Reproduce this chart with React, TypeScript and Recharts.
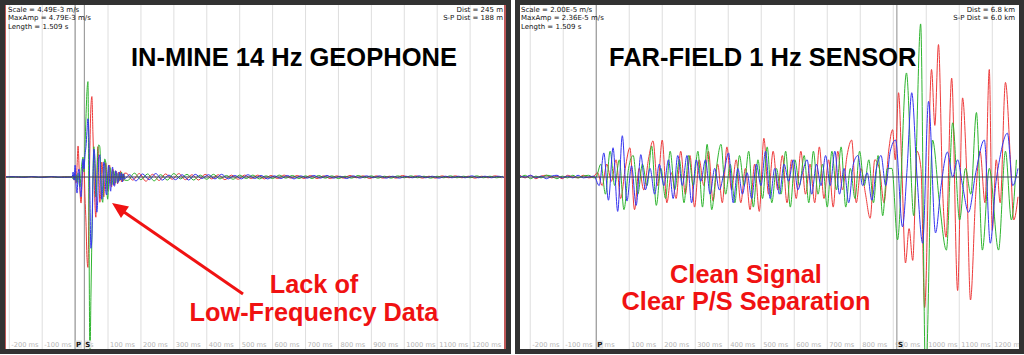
import React from "react";
import { LineChart, Line, XAxis, YAxis, ReferenceLine } from "recharts";

const TICKS_MS = [-200, -100, 0, 100, 200, 300, 400, 500, 600, 700, 800, 900, 1000, 1100, 1200];

const RED = "#ee3b3b";
const GREEN = "#2fb52f";
const BLUE = "#3434f0";

// ---------- in-mine 14 Hz geophone, amplitude in 1e-3 m/s ----------
const MINE_SCALE = 4.49;
const MINE_DOMAIN: [number, number] = [-213, 1309];
const MINE_P = 0;
const MINE_S = 28;

// quiet pre-event, every 20 ms from -212 ms
const MINE_PRE_START = -212;
const MINE_PRE_STEP = 20;
const MINE_PRE_RED = [0, 0.01, -0.01, 0.01, 0, -0.01, 0.01, 0, -0.01, 0.01, 0];
const MINE_PRE_GREEN = [0, -0.01, 0.01, 0, 0.01, -0.01, 0, 0.01, -0.01, 0, 0];
const MINE_PRE_BLUE = [0, 0.01, 0, -0.01, 0.01, 0, -0.01, 0.01, 0, -0.01, 0];

// P/S burst, every 3 ms from -9 ms
const MINE_BURST_START = -9;
const MINE_BURST_STEP = 3;
const MINE_BURST_RED = [
  0, 0.05, -0.08, 0.1, -0.16, 0.31, 0.81, 0.26, -0.39, -0.68,
  -0.21, 0.37, 0.26, -0.52, -1.18, -2.1, -2.36, -0.79, 0.79, 1.83,
  2.1, 1.18, 0.26, -0.66, -1.05, 0, 0.79, 0.26, -0.66, -0.39,
  0.39, 0.13, -0.52, -0.13, 0.37, 0.1, -0.37, 0.21, 0.31, -0.16,
  -0.26, 0.21, 0.1, -0.21, 0.16, 0.08, -0.18, 0.13, -0.1, 0.16,
  -0.13, 0.08, -0.1, 0.1,
];
const MINE_BURST_GREEN = [
  0, -0.05, 0.08, -0.08, 0.05, -0.13, 0.1, -0.16, -0.26, 0.13,
  0.39, 0.52, 0.13, 0.79, 1.57, 2.23, 2.49, -1.05, -4.79, -3.14,
  -1.57, 0, 0.79, 0.26, -0.52, -0.13, 0.66, 0.84, 0.79, 0.13,
  -0.52, -0.66, 0, 0.47, 0.39, -0.26, -0.58, -0.13, 0.26, 0.16,
  -0.21, -0.1, 0.16, 0.05, -0.16, 0.1, 0.08, -0.13, 0.1, -0.08,
  0.13, -0.1, 0.08, -0.08,
];
const MINE_BURST_BLUE = [
  0, 0.13, -0.08, 0.31, -0.21, -0.42, 0.1, 0.21, -0.31, -0.52,
  0, 0.47, 0.21, 0.58, 0.79, 1.18, 1.52, 1.05, -0.52, -1.86,
  -1.57, -0.26, 0.73, 0.52, -0.39, -0.92, -0.52, 0.47, 0.58, -0.13,
  -0.58, -0.26, 0.39, 0.31, -0.37, -0.47, 0.05, 0.31, -0.16, -0.37,
  0.1, 0.26, -0.21, -0.24, 0.16, 0.13, -0.16, -0.1, 0.13, -0.08,
  0.1, -0.13, 0.08, -0.05,
];

// coda, every 20 ms
const MINE_TAIL_STEP = 20;
const MINE_TAIL_RED = [
  0.1, -0.08, 0.09, -0.11, 0.07, -0.09, 0.08, -0.06, 0.09, -0.07,
  0.06, -0.08, 0.07, -0.05, 0.06, -0.07, 0.05, -0.06, 0.05, -0.04,
  0.05, -0.05, 0.04, -0.04, 0.05, -0.03, 0.04, -0.04, 0.04, -0.04,
  0.03, -0.04, 0.03, -0.03, 0.04, -0.02, 0.03, -0.04, 0.03, -0.03,
  0.02, -0.03, 0.04, -0.02, 0.03, -0.03, 0.02, -0.03, 0.03, -0.02,
  0.03, -0.02, 0.02, -0.03, 0.02, -0.02, 0.03, -0.02,
];
const MINE_TAIL_GREEN = [
  -0.09, 0.1, -0.07, 0.08, -0.1, 0.06, -0.08, 0.09, -0.05, 0.07,
  -0.08, 0.05, -0.06, 0.07, -0.05, 0.04, -0.06, 0.05, -0.04, 0.05,
  -0.05, 0.03, -0.04, 0.05, -0.03, 0.04, -0.04, 0.03, -0.04, 0.04,
  -0.03, 0.03, -0.04, 0.02, -0.03, 0.04, -0.02, 0.03, -0.03, 0.02,
  -0.03, 0.03, -0.02, 0.03, -0.02, 0.02, -0.03, 0.02, -0.02, 0.03,
  -0.02, 0.02, -0.02, 0.03, -0.02, 0.02, -0.02, 0.02,
];
const MINE_TAIL_BLUE = [
  0.06, -0.1, 0.08, -0.07, 0.09, -0.08, 0.05, -0.07, 0.06, -0.08,
  0.07, -0.04, 0.06, -0.05, 0.07, -0.05, 0.04, -0.05, 0.06, -0.04,
  0.04, -0.05, 0.03, -0.04, 0.04, -0.05, 0.03, -0.03, 0.04, -0.03,
  0.04, -0.03, 0.02, -0.04, 0.03, -0.03, 0.03, -0.02, 0.03, -0.03,
  0.02, -0.03, 0.02, -0.02, 0.03, -0.02, 0.02, -0.03, 0.02, -0.02,
  0.02, -0.02, 0.03, -0.02, 0.02, -0.02, 0.02, -0.02,
];

// ---------- far-field 1 Hz sensor, amplitude in 1e-5 m/s ----------
const FAR_SCALE = 2.0;
const FAR_DOMAIN: [number, number] = [-231, 1281];
const FAR_P = 0;
const FAR_S = 911;

// pre-event, every 16 ms from -231 ms
const FAR_PRE_START = -231;
const FAR_PRE_STEP = 16;
const FAR_PRE_RED = [0.02, -0.01, 0.02, -0.02, 0.01, 0.02, -0.01, 0.01, -0.02, 0.02, 0, -0.01, 0.02, -0.01, 0.01];
const FAR_PRE_GREEN = [-0.01, 0.02, -0.02, 0.01, -0.01, 0.02, 0.01, -0.02, 0.01, -0.01, 0.02, -0.01, 0.01, 0.02, -0.01];
const FAR_PRE_BLUE = [0.01, 0, 0.02, -0.01, 0.01, -0.02, 0.01, 0.02, -0.01, 0.01, -0.01, 0.02, -0.01, 0, 0.01];

// P coda, every 14 ms
const FAR_CODA_STEP = 14;
const FAR_CODA_RED = [
  0.05, -0.1, 0.15, -0.05, 0.2, -0.25, 0.1, 0.34, -0.38, 0.1,
  -0.15, 0.2, 0.42, -0.1, 0.43, -0.3, 0.05, -0.25, 0.3, -0.2,
  0.25, -0.35, 0.2, -0.1, 0.3, -0.28, 0.15, -0.3, 0.35, -0.15,
  0.2, -0.3, 0.1, -0.38, 0.15, -0.4, 0.45, -0.2, 0.3, -0.15,
  0.25, -0.3, 0.2, -0.25, 0.3, -0.2, 0.15, -0.3, 0.35, -0.25,
  0.2, -0.35, 0.3, -0.15, 0.25, 0.43, -0.3, 0.1, -0.2, -0.48,
  0.2, 0.1, -0.3, 0.3,
];
const FAR_CODA_GREEN = [
  0, 0.15, -0.2, 0.3, -0.1, 0.2, -0.38, 0.1, 0.25, -0.2,
  0.15, -0.1, 0.36, -0.33, 0.1, -0.25, 0.3, -0.15, 0.2, -0.3,
  0.25, -0.1, 0.3, -0.35, 0.38, -0.38, 0.1, 0.38, -0.2, 0.15,
  -0.3, 0.25, -0.1, 0.3, -0.35, 0.2, -0.25, 0.35, -0.3, 0.1,
  -0.2, 0.3, -0.35, 0.2, -0.1, 0.25, -0.3, 0.3, -0.2, 0.15,
  -0.35, 0.3, -0.15, 0.35, -0.35, 0.1, -0.25, 0.3, -0.1, 0.2,
  -0.3, 0.25, -0.45, 0.1,
];
const FAR_CODA_BLUE = [
  -0.1, 0.28, -0.27, 0.34, -0.4, 0.48, -0.28, 0.13, -0.33, 0.26,
  -0.15, 0.1, -0.2, 0.15, -0.1, 0.2, -0.25, 0.25, -0.1, 0.25,
  -0.3, 0.2, -0.05, 0.2, -0.2, 0.1, -0.15, 0.05, 0.28, -0.3,
  0.1, -0.2, 0.05, -0.25, 0.15, -0.1, 0.3, -0.25, 0.1, -0.2,
  0.15, -0.05, 0.2, -0.15, 0.05, 0.2, -0.2, 0.15, -0.1, 0.25,
  -0.1, 0.3, -0.2, 0.1, -0.3, 0.15, 0.25, -0.1, 0.05, -0.27,
  0.1, 0.25, -0.1, 0.3,
];

// S arrivals: [ms, amplitude] at the turning points
const FAR_S_RED: [number, number][] = [
  [898, 0.55], [906, 0.2], [916, 0.98], [926, 0.1], [937, -1.0], [948, -0.6], [959, -0.97],
  [972, 0.3], [984, 0.1], [995, -1.52], [1016, 1.25], [1026, 0.6], [1037, 1.54], [1050, -0.2],
  [1060, -0.7], [1077, 1.15], [1095, -1.32], [1110, 0.92], [1122, 0.1], [1134, -1.43],
  [1150, -0.2], [1163, 0.3], [1178, -0.3], [1191, 1.25], [1200, -0.62], [1212, 0.2],
  [1224, -0.3], [1240, 1.1], [1255, 0.2], [1265, -0.5], [1278, -0.23],
];
const FAR_S_GREEN: [number, number][] = [
  [896, 0.1], [913, -0.73], [940, 1.21], [962, -0.45], [983, 1.78], [998, -2.36], [1019, 0.43],
  [1040, -0.3], [1061, -0.85], [1080, 0.63], [1101, -0.5], [1119, 0.1], [1135, -0.2],
  [1152, 0.75], [1170, -0.85], [1191, 0.1], [1219, -0.85], [1240, 0.3], [1258, -0.5], [1273, 0.2],
];
const FAR_S_BLUE: [number, number][] = [
  [907, 0.43], [928, -0.58], [942, 0.1], [956, 0.98], [972, 0], [989, -0.77], [1007, 0.88],
  [1028, -0.65], [1045, -0.1], [1064, 0.29], [1080, 0], [1095, 0.2], [1110, -0.1], [1128, -0.41],
  [1150, 0.05], [1176, 0.43], [1194, -0.77], [1210, -0.1], [1222, 0.2], [1246, 0.51],
  [1262, -0.1], [1278, 0.1],
];

type Pt = { t: number; v: number };
const sampled = (start: number, step: number, values: number[]): Pt[] =>
  values.map((v, i) => ({ t: start + i * step, v }));
const picked = (list: [number, number][]): Pt[] => list.map(([t, v]) => ({ t, v }));

const mineRed = [
  ...sampled(MINE_PRE_START, MINE_PRE_STEP, MINE_PRE_RED),
  ...sampled(MINE_BURST_START, MINE_BURST_STEP, MINE_BURST_RED),
  ...sampled(155, MINE_TAIL_STEP, MINE_TAIL_RED),
];
const mineGreen = [
  ...sampled(MINE_PRE_START, MINE_PRE_STEP, MINE_PRE_GREEN),
  ...sampled(MINE_BURST_START, MINE_BURST_STEP, MINE_BURST_GREEN),
  ...sampled(160, MINE_TAIL_STEP, MINE_TAIL_GREEN),
];
const mineBlue = [
  ...sampled(MINE_PRE_START, MINE_PRE_STEP, MINE_PRE_BLUE),
  ...sampled(MINE_BURST_START, MINE_BURST_STEP, MINE_BURST_BLUE),
  ...sampled(165, MINE_TAIL_STEP, MINE_TAIL_BLUE),
];

const farRed = [
  ...sampled(FAR_PRE_START, FAR_PRE_STEP, FAR_PRE_RED),
  ...sampled(4, FAR_CODA_STEP, FAR_CODA_RED),
  ...picked(FAR_S_RED),
];
const farGreen = [
  ...sampled(FAR_PRE_START, FAR_PRE_STEP, FAR_PRE_GREEN),
  ...sampled(0, FAR_CODA_STEP, FAR_CODA_GREEN),
  ...picked(FAR_S_GREEN),
];
const farBlue = [
  ...sampled(FAR_PRE_START, FAR_PRE_STEP, FAR_PRE_BLUE),
  ...sampled(9, FAR_CODA_STEP, FAR_CODA_BLUE),
  ...picked(FAR_S_BLUE),
];

const INFO_FONT = "'DejaVu Sans', sans-serif";
const TITLE_FONT = "'Liberation Sans', Arial, sans-serif";

function TickText(props: any) {
  const vb = props.viewBox || {};
  return (
    <text x={vb.x + 2} y={vb.y + vb.height - 2} fontSize={6.7} fill="#b4b4b4" fontFamily={INFO_FONT}>
      {props.text}
    </text>
  );
}

function PhaseText(props: any) {
  const vb = props.viewBox || {};
  return (
    <g>
      <rect x={vb.x + 0.5} y={vb.y + vb.height - 8.5} width={6.5} height={8} fill="#e4e4e4" />
      <text x={vb.x + 1} y={vb.y + vb.height - 2} fontSize={7} fontWeight="bold" fill="#111" fontFamily={INFO_FONT}>
        {props.text}
      </text>
    </g>
  );
}

type PanelProps = {
  width: number;
  domain: [number, number];
  scale: number;
  p: number;
  s: number;
  red: Pt[];
  green: Pt[];
  blue: Pt[];
};

function Trace({ data, color }: { data: Pt[]; color: string }) {
  return (
    <Line
      data={data}
      dataKey="v"
      type="monotone"
      stroke={color}
      strokeWidth={1}
      dot={false}
      activeDot={false}
      isAnimationActive={false}
    />
  );
}

function Panel({ width, domain, scale, p, s, red, green, blue }: PanelProps) {
  return (
    <LineChart width={width} height={344} margin={{ top: 0, right: 0, bottom: 0, left: 0 }}>
      <XAxis type="number" dataKey="t" domain={domain} allowDataOverflow hide />
      <YAxis type="number" domain={[-scale, scale]} allowDataOverflow hide />
      {TICKS_MS.map((t) => (
        <ReferenceLine key={t} x={t} stroke="#dedede" zIndex={-50} label={<TickText text={`${t} ms`} />} />
      ))}
      <ReferenceLine x={p} stroke="#8c8c8c" zIndex={-40} />
      <ReferenceLine x={s} stroke="#8c8c8c" zIndex={-40} />
      {Trace({ data: red, color: RED })}
      {Trace({ data: green, color: GREEN })}
      {Trace({ data: blue, color: BLUE })}
      <ReferenceLine y={0} stroke="#3e3e58" zIndex={450} />
      <ReferenceLine x={p} stroke="none" label={<PhaseText text="P" />} />
      <ReferenceLine x={s} stroke="none" label={<PhaseText text="S" />} />
    </LineChart>
  );
}

const frame: React.CSSProperties = {
  position: "absolute",
  top: 0,
  height: 354,
  boxSizing: "border-box",
  border: "5px solid #323232",
  background: "#fff",
};

export default function App() {
  return (
    <div style={{ position: "absolute", left: 0, top: 0, width: 1024, height: 355, background: "#fff", overflow: "hidden" }}>
      <div style={{ ...frame, left: 0, width: 511 }}>
        <Panel width={501} domain={MINE_DOMAIN} scale={MINE_SCALE} p={MINE_P} s={MINE_S} red={mineRed} green={mineGreen} blue={mineBlue} />
        <div style={{ position: "absolute", left: 0, top: 0, width: 1, height: 344, background: "#c05a5a" }} />
        <div style={{ position: "absolute", right: 0, top: 0, width: 2, height: 344, background: "#c05a5a" }} />
      </div>
      <div style={{ ...frame, left: 515, width: 509 }}>
        <Panel width={499} domain={FAR_DOMAIN} scale={FAR_SCALE} p={FAR_P} s={FAR_S} red={farRed} green={farGreen} blue={farBlue} />
      </div>
      <svg width={1024} height={355} style={{ position: "absolute", left: 0, top: 0, pointerEvents: "none" }}>
        <g fontFamily={INFO_FONT} fontSize={7} fill="#111">
          <text x={8} y={12}>Scale = 4.49E-3 m/s</text>
          <text x={8} y={20.3}>MaxAmp = 4.79E-3 m/s</text>
          <text x={8} y={28.7}>Length = 1.509 s</text>
          <text x={503} y={12} textAnchor="end">Dist = 245 m</text>
          <text x={503} y={20.3} textAnchor="end">S-P Dist = 188 m</text>
          <text x={521} y={12}>Scale = 2.00E-5 m/s</text>
          <text x={521} y={20.3}>MaxAmp = 2.36E-5 m/s</text>
          <text x={521} y={28.7}>Length = 1.509 s</text>
          <text x={1015} y={12} textAnchor="end">Dist = 6.8 km</text>
          <text x={1015} y={20.3} textAnchor="end">S-P Dist = 6.0 km</text>
        </g>
        <g fontFamily={TITLE_FONT} fontWeight="bold" fontSize={25.5} fill="#000">
          <text x={131} y={66}>IN-MINE 14 Hz GEOPHONE</text>
          <text x={609} y={66}>FAR-FIELD 1 Hz SENSOR</text>
        </g>
        <g fontFamily={TITLE_FONT} fontWeight="bold" fontSize={25.3} fill="#f01212" textAnchor="middle">
          <text x={314} y={293}>Lack of</text>
          <text x={314} y={321}>Low-Frequency Data</text>
          <text x={746} y={283}>Clean Signal</text>
          <text x={746} y={310}>Clear P/S Separation</text>
        </g>
        <line x1={243} y1={294} x2={124} y2={212} stroke="#f01212" strokeWidth={3} />
        <polygon points="112,203 129,206.5 121,218" fill="#f01212" />
      </svg>
    </div>
  );
}
